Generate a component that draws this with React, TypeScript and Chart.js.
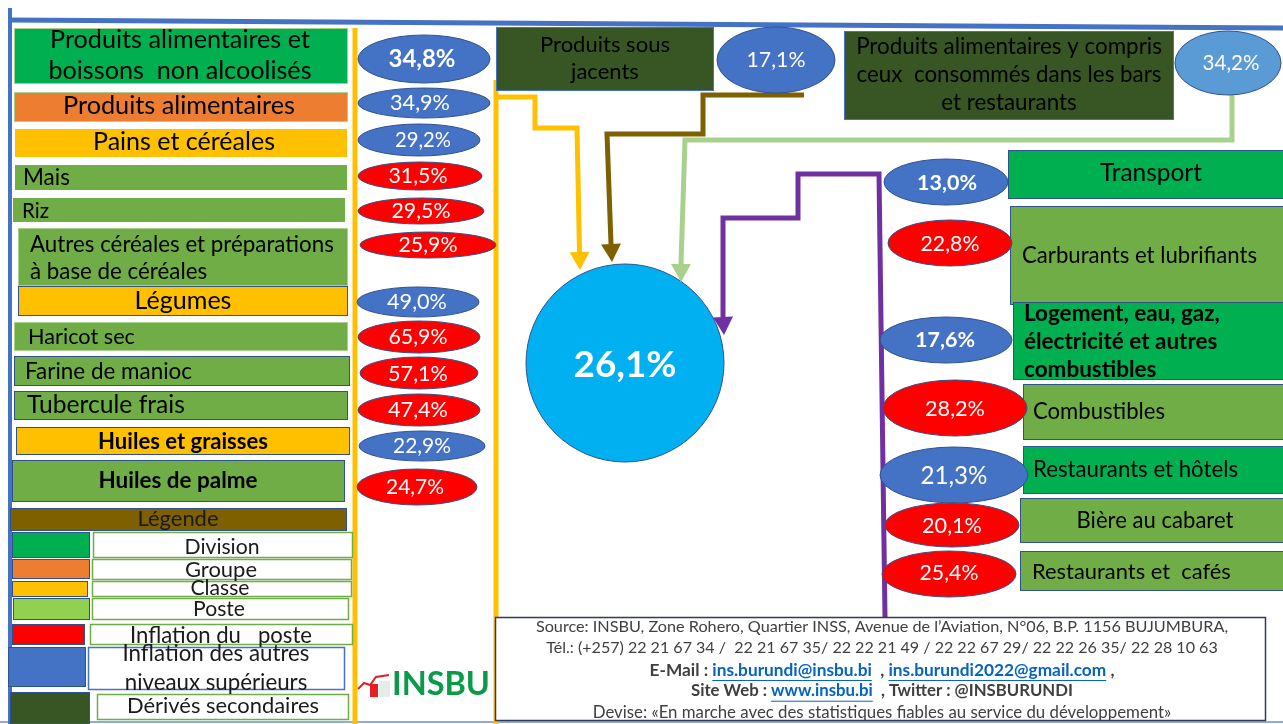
import React, { useEffect, useRef } from "react";
import { Chart, registerables } from "chart.js";

Chart.register(...registerables);

// ---------- DATA ----------
const leftLabels = [
  "Produits alimentaires et\nboissons  non alcoolisés",
  "Produits alimentaires",
  "Pains et céréales",
  "Mais",
  "Riz",
  "Autres céréales et préparations\nà base de céréales",
  "Légumes",
  "Haricot sec",
  "Farine de manioc",
  "Tubercule frais",
  "Huiles et graisses",
  "Huiles de palme",
];
const leftValues = [34.8, 34.9, 29.2, 31.5, 29.5, 25.9, 49.0, 65.9, 57.1, 47.4, 22.9, 24.7];
const leftLevels = ["Division", "Groupe", "Classe", "Poste", "Poste", "Poste", "Classe", "Poste", "Poste", "Poste", "Classe", "Poste"];

const rightLabels = [
  "Transport",
  "Carburants et lubrifiants",
  "Logement, eau, gaz,\nélectricité et autres\ncombustibles",
  "Combustibles",
  "Restaurants et hôtels",
  "Bière au cabaret",
  "Restaurants et  cafés",
];
const rightValues = [13.0, 22.8, 17.6, 28.2, 21.3, 20.1, 25.4];
const rightLevels = ["Division", "Poste", "Division", "Poste", "Division", "Poste", "Poste"];

const topLabels = ["Produits sous\njacents", "Produits alimentaires y compris\nceux  consommés dans les bars\net restaurants"];
const topValues = [17.1, 34.2];
const headlineValue = 26.1;

const legendTitle = "Légende";
const legendLabels = [
  "Division",
  "Groupe",
  "Classe",
  "Poste",
  "Inflation du   poste",
  "Inflation des autres\nniveaux supérieurs",
  "Dérivés secondaires",
];
const legendColors = ["#00B050", "#ED7D31", "#FFC000", "#92D050", "#FF0000", "#4472C4", "#375623"];

const footerLine1 = "Source: INSBU, Zone Rohero, Quartier INSS, Avenue de l’Aviation, N°06, B.P. 1156 BUJUMBURA,";
const footerLine2 = "Tél.: (+257) 22 21 67 34 /  22 21 67 35/ 22 22 21 49 / 22 22 67 29/ 22 22 26 35/ 22 28 10 63";
const footerLine5 = "Devise: «En marche avec des statistiques fiables au service du développement»";
const logoText = "INSBU";

// ---------- STYLES / LAYOUT ----------
const LEVEL_FILL: Record<string, string> = {
  Division: "#00B050",
  Groupe: "#ED7D31",
  Classe: "#FFC000",
  Poste: "#70AD47",
};
const DERIVED = "#375623";
const RED = "#FF0000";
const BLUE = "#4472C4";
const FONT = 'Lato, "Open Sans", sans-serif';

type R = [number, number, number, number];
type E = [number, number, number, number];
// w = target width (px) of the first line, used to fit the font size
type T = { x: number; y: number; size: number; w?: number; bold?: boolean; align?: CanvasTextAlign; lh?: number };

const leftBoxes: R[] = [
  [14, 28, 348, 84], [14, 92, 348, 122], [14, 128, 348, 158], [14, 164, 348, 191],
  [12, 197, 346, 223], [18, 228, 348, 286], [18, 286, 348, 316], [14, 322, 348, 351],
  [14, 356, 350, 386], [14, 391, 348, 420], [16, 427, 350, 455], [12, 460, 345, 502],
];
const leftBoxBorders = ["#A9D18E", "#A9D18E", "#FFFFFF", "#FFFFFF", "#FFFFFF", "#A9D18E", "#2F528F", "#A9D18E", "#2F528F", "#2F528F", "#2F528F", "#2F528F"];
const leftText: T[] = [
  { x: 180, y: 40, size: 22, w: 260, align: "center", lh: 31 },
  { x: 179, y: 106, size: 22, w: 232, align: "center" },
  { x: 184, y: 142, size: 22, w: 182, align: "center" },
  { x: 23, y: 178, size: 17, w: 47 },
  { x: 22, y: 211, size: 17, w: 27 },
  { x: 30, y: 245, size: 17, w: 304, lh: 27 },
  { x: 183, y: 301, size: 22, w: 97, align: "center" },
  { x: 28, y: 337, size: 17, w: 107 },
  { x: 25, y: 372, size: 17, w: 167 },
  { x: 27, y: 405, size: 20, w: 158 },
  { x: 183, y: 442, size: 17, w: 170, bold: true, align: "center" },
  { x: 178, y: 481, size: 17, w: 159, bold: true, align: "center" },
];
const leftEllipses: E[] = [
  [424, 59, 66, 24], [424, 103, 66, 15], [419, 140, 61, 16], [420, 176, 62, 14],
  [421, 211, 63, 13], [428, 245, 68, 13], [418, 302, 61, 15], [419, 337, 61, 16],
  [419, 373, 59, 16], [419, 410, 61, 16], [422, 446, 63, 15], [417, 487, 60, 18],
];
const leftEllText: T[] = [
  { x: 422, y: 59, size: 21, w: 67, bold: true, align: "center" },
  { x: 420, y: 103, size: 18, w: 60, align: "center" },
  { x: 423, y: 140, size: 18, w: 56, align: "center" },
  { x: 418, y: 176, size: 18, w: 59, align: "center" },
  { x: 421, y: 211, size: 18, w: 59, align: "center" },
  { x: 428, y: 245, size: 18, w: 59, align: "center" },
  { x: 417, y: 302, size: 18, w: 60, align: "center" },
  { x: 418, y: 337, size: 18, w: 59, align: "center" },
  { x: 418, y: 374, size: 18, w: 60, align: "center" },
  { x: 418, y: 410, size: 18, w: 60, align: "center" },
  { x: 422, y: 446, size: 18, w: 58, align: "center" },
  { x: 415, y: 487, size: 18, w: 58, align: "center" },
];

const rightBoxes: R[] = [
  [1008, 150, 1290, 199], [1010, 206, 1290, 305], [1013, 302, 1290, 380], [1023, 384, 1290, 440],
  [1023, 446, 1290, 494], [1020, 498, 1290, 543], [1020, 551, 1290, 591],
];
const rightText: T[] = [
  { x: 1151, y: 173, size: 22, w: 102, align: "center" },
  { x: 1022, y: 256, size: 18, w: 235 },
  { x: 1024, y: 314, size: 18, w: 196, bold: true, lh: 28 },
  { x: 1033, y: 412, size: 18, w: 132 },
  { x: 1033, y: 470, size: 18, w: 205 },
  { x: 1155, y: 521, size: 18, w: 157, align: "center" },
  { x: 1032, y: 572, size: 18, w: 199 },
];
const rightEllipses: E[] = [
  [946, 182, 62, 23], [950, 243, 62, 23], [946, 340, 66, 23], [955, 408, 72, 28],
  [954, 475, 74, 28], [952, 525, 67, 22], [949, 574, 67, 23],
];
const rightEllText: T[] = [
  { x: 947, y: 183, size: 18, w: 60, bold: true, align: "center" },
  { x: 950, y: 244, size: 18, w: 59, align: "center" },
  { x: 945, y: 340, size: 18, w: 60, bold: true, align: "center" },
  { x: 955, y: 409, size: 18, w: 60, align: "center" },
  { x: 954, y: 476, size: 20, w: 67, align: "center" },
  { x: 952, y: 526, size: 18, w: 60, align: "center" },
  { x: 949, y: 573, size: 18, w: 59, align: "center" },
];

const topBoxes: R[] = [[496, 27, 714, 91], [844, 31, 1174, 120]];
const topText: T[] = [
  { x: 605, y: 45, size: 17, w: 130, align: "center", lh: 27 },
  { x: 1009, y: 47, size: 17, w: 306, align: "center", lh: 28 },
];
const topEllipses: E[] = [[776, 60, 59, 33], [1228, 63, 53, 32]];
const topEllColors = [BLUE, "#5B9BD5"];
const topEllText: T[] = [
  { x: 776, y: 60, size: 17, w: 59, align: "center" },
  { x: 1231, y: 63, size: 16, w: 57, align: "center" },
];

const headline = { x: 625, y: 363, r: 99 };
const headlineText: T = { x: 625, y: 365, size: 36, w: 103, bold: true, align: "center" };

const legendTitleBox: R = [10, 508, 347, 531];
const legendTitleText: T = { x: 178, y: 519, size: 18, w: 81, align: "center" };
const legendSwatches: R[] = [
  [12, 532, 90, 558], [12, 559, 90, 579], [12, 581, 88, 597], [13, 598, 90, 620],
  [12, 624, 85, 645], [8, 647, 86, 687], [10, 692, 90, 724],
];
const legendBoxes: R[] = [
  [93, 532, 353, 558], [92, 559, 352, 580], [92, 581, 352, 597], [92, 598, 349, 620],
  [90, 624, 353, 645], [88, 647, 345, 690], [97, 694, 349, 720],
];
const legendBoxBorders = ["#70AD47", "#70AD47", "#70AD47", "#70AD47", "#70AD47", "#4472C4", "#70AD47"];
const legendText: T[] = [
  { x: 222, y: 547, size: 18, w: 75, align: "center" },
  { x: 221, y: 570, size: 18, w: 72, align: "center" },
  { x: 220, y: 588, size: 18, w: 59, align: "center" },
  { x: 219, y: 609, size: 18, w: 52, align: "center" },
  { x: 221, y: 636, size: 18, w: 182, align: "center" },
  { x: 216, y: 654, size: 18, w: 187, align: "center", lh: 29 },
  { x: 223, y: 706, size: 18, w: 192, align: "center" },
];

const connectors = [
  { color: "#FFC000", pts: [[496, 97], [535, 97], [535, 128], [577, 128], [579.5, 252]], tip: [580, 270] },
  { color: "#7F6000", pts: [[804, 95], [703, 95], [703, 134], [607, 134], [611, 244]], tip: [612, 262] },
  { color: "#A9D18E", pts: [[1232, 93], [1232, 140], [685, 140], [681, 264]], tip: [681, 282] },
  { color: "#7030A0", pts: [[885, 617], [879, 174], [798, 174], [798, 218], [723, 218], [723, 317]], tip: [724, 335] },
];
const plainLines = [
  { color: "#FFC000", width: 5, pts: [[496, 80], [496, 724]] },
  { color: "#FFC000", width: 5, pts: [[355, 28], [355, 724]] },
  { color: "#4472C4", width: 5, pts: [[8, 20], [1283, 28]] },
  { color: "#4472C4", width: 4, pts: [[10, 8], [10, 724]] },
  { color: "#8FAADC", width: 2, pts: [[0, 722], [1283, 722]] },
];
const footerBox: R = [495, 617, 1266, 721];
const footerY = [627, 648, 670, 691, 713];
const footerW = [693, 672, 465, 382, 579];

const fmt = (v: number) => v.toFixed(1).replace(".", ",") + "%";

export default function App() {
  const ref = useRef<HTMLCanvasElement | null>(null);

  useEffect(() => {
    if (!ref.current) return;

    const plugin = {
      id: "infographic",
      afterDatasetsDraw(chart: any) {
        const ctx: CanvasRenderingContext2D = chart.ctx;
        const sx = chart.scales.x;
        const sy = chart.scales.y;
        const X = (v: number) => sx.getPixelForValue(v);
        const Y = (v: number) => sy.getPixelForValue(v);

        const rect = (r: R, fill: string | null, stroke?: string, lw = 1) => {
          const x = X(r[0]), y = Y(r[1]), w = X(r[2]) - x, h = Y(r[3]) - y;
          if (fill) { ctx.fillStyle = fill; ctx.fillRect(x, y, w, h); }
          if (stroke) { ctx.strokeStyle = stroke; ctx.lineWidth = lw; ctx.strokeRect(x + 0.5, y + 0.5, w - 1, h - 1); }
        };
        const ell = (e: E, fill: string) => {
          ctx.beginPath();
          ctx.ellipse(X(e[0]), Y(e[1]), Math.abs(X(e[0] + e[2]) - X(e[0])), Math.abs(Y(e[1] + e[3]) - Y(e[1])), 0, 0, Math.PI * 2);
          ctx.fillStyle = fill;
          ctx.fill();
          ctx.strokeStyle = "#2F528F";
          ctx.lineWidth = 1;
          ctx.stroke();
        };
        const text = (s: string, t: T, color = "#000") => {
          const lines = s.split("\n");
          let size = t.size;
          const weight = t.bold ? "bold " : "";
          if (t.w) {
            ctx.font = `${weight}${size}px ${FONT}`;
            const m = ctx.measureText(lines[0]).width;
            if (m > 0) size = (size * t.w) / m;
          }
          ctx.font = `${weight}${size.toFixed(2)}px ${FONT}`;
          ctx.fillStyle = color;
          ctx.textAlign = t.align || "left";
          ctx.textBaseline = "middle";
          const lh = t.lh || t.size * 1.4;
          lines.forEach((line, i) => ctx.fillText(line, X(t.x), Y(t.y + i * lh)));
        };
        const rich = (segs: { t: string; bold?: boolean; link?: boolean }[], cx: number, cy: number, target: number) => {
          const measure = (size: number) =>
            segs.map((s) => {
              ctx.font = `${s.bold ? "bold " : ""}${size}px ${FONT}`;
              return ctx.measureText(s.t).width;
            });
          const base = 14;
          const w0 = measure(base).reduce((a, b) => a + b, 0);
          const size = (base * target) / w0;
          const widths = measure(size);
          const total = widths.reduce((a, b) => a + b, 0);
          let x = X(cx) - total / 2;
          ctx.textAlign = "left";
          ctx.textBaseline = "middle";
          segs.forEach((s, i) => {
            ctx.font = `${s.bold ? "bold " : ""}${size}px ${FONT}`;
            ctx.fillStyle = s.link ? "#0563C1" : "#404040";
            ctx.fillText(s.t, x, Y(cy));
            if (s.link) ctx.fillRect(x, Y(cy) + size * 0.58, widths[i], 1);
            x += widths[i];
          });
        };

        ctx.save();

        // arrowheads
        connectors.forEach((c) => {
          const base = c.pts[c.pts.length - 1];
          const tip = c.tip;
          const bx = X(base[0]), by = Y(base[1]), tx = X(tip[0]), ty = Y(tip[1]);
          const dx = tx - bx, dy = ty - by;
          const len = Math.hypot(dx, dy) || 1;
          const nx = -dy / len, ny = dx / len;
          const hw = 10;
          ctx.beginPath();
          ctx.moveTo(tx, ty);
          ctx.lineTo(bx + nx * hw, by + ny * hw);
          ctx.lineTo(bx - nx * hw, by - ny * hw);
          ctx.closePath();
          ctx.fillStyle = c.color;
          ctx.fill();
        });

        // left column
        leftBoxes.forEach((r, i) => rect(r, LEVEL_FILL[leftLevels[i]], leftBoxBorders[i]));
        leftLabels.forEach((s, i) => text(s, leftText[i]));
        leftEllipses.forEach((e, i) => ell(e, leftLevels[i] === "Poste" ? RED : BLUE));
        leftValues.forEach((v, i) => text(fmt(v), leftEllText[i], "#FFFFFF"));

        // right column
        rightBoxes.forEach((r, i) => rect(r, LEVEL_FILL[rightLevels[i]], "#2F528F"));
        rightLabels.forEach((s, i) => text(s, rightText[i]));
        rightEllipses.forEach((e, i) => ell(e, rightLevels[i] === "Poste" ? RED : BLUE));
        rightValues.forEach((v, i) => text(fmt(v), rightEllText[i], "#FFFFFF"));

        // top
        topBoxes.forEach((r) => rect(r, DERIVED, "#4472C4"));
        topLabels.forEach((s, i) => text(s, topText[i]));
        topEllipses.forEach((e, i) => ell(e, topEllColors[i]));
        topValues.forEach((v, i) => text(fmt(v), topEllText[i], "#FFFFFF"));

        // headline value
        text(fmt(headlineValue), headlineText, "#FFFFFF");

        // legend
        rect(legendTitleBox, "#7F6000", "#2F528F");
        text(legendTitle, legendTitleText, "#1a1a1a");
        legendSwatches.forEach((r, i) => rect(r, legendColors[i], "#2F528F"));
        legendBoxes.forEach((r, i) => rect(r, "#FFFFFF", legendBoxBorders[i], 1.5));
        legendLabels.forEach((s, i) => text(s, legendText[i], "#1a1a1a"));

        // footer
        rect(footerBox, "#FFFFFF", "#2F3B55", 1.5);
        rich([{ t: footerLine1 }], 882, footerY[0], footerW[0]);
        rich([{ t: footerLine2 }], 882, footerY[1], footerW[1]);
        rich([
          { t: "E-Mail : ", bold: true },
          { t: "ins.burundi@insbu.bi", bold: true, link: true },
          { t: "  , ", bold: true },
          { t: "ins.burundi2022@gmail.com", bold: true, link: true },
          { t: " ,", bold: true },
        ], 882, footerY[2], footerW[2]);
        rich([
          { t: "Site Web : ", bold: true },
          { t: "www.insbu.bi", bold: true, link: true },
          { t: "  , Twitter : @INSBURUNDI", bold: true },
        ], 882, footerY[3], footerW[3]);
        rich([{ t: footerLine5 }], 882, footerY[4], footerW[4]);

        // logo
        ctx.strokeStyle = "#E02020";
        ctx.lineWidth = 2;
        ctx.beginPath();
        [[358, 689], [364, 683], [370, 685], [376, 677], [389, 675]].forEach((p, i) =>
          i === 0 ? ctx.moveTo(X(p[0]), Y(p[1])) : ctx.lineTo(X(p[0]), Y(p[1]))
        );
        ctx.stroke();
        rect([370, 684, 378, 697], "#E81E25");
        rect([379, 681, 390, 697], "#E4EDE6");
        text(logoText, { x: 392, y: 685, size: 30, w: 98, bold: true }, "#0A9A48");

        ctx.restore();
      },
    };

    const datasets: any[] = [];
    plainLines.forEach((l) =>
      datasets.push({
        type: "scatter",
        data: l.pts.map(([x, y]) => ({ x, y })),
        showLine: true,
        borderColor: l.color,
        borderWidth: l.width,
        pointRadius: 0,
        tension: 0,
        fill: false,
        order: 10,
      })
    );
    connectors.forEach((c) =>
      datasets.push({
        type: "scatter",
        data: c.pts.map(([x, y]) => ({ x, y })),
        showLine: true,
        borderColor: c.color,
        borderWidth: 5,
        borderJoinStyle: "miter",
        pointRadius: 0,
        tension: 0,
        fill: false,
        order: 5,
      })
    );
    datasets.push({
      type: "bubble",
      data: [{ x: headline.x, y: headline.y, r: headline.r }],
      backgroundColor: "#00B0F0",
      borderColor: "#2F528F",
      borderWidth: 1,
      order: 1,
    });

    const chart = new Chart(ref.current, {
      type: "scatter",
      data: { datasets },
      options: {
        responsive: false,
        animation: false,
        devicePixelRatio: 1,
        events: [],
        layout: { padding: 0, autoPadding: false },
        plugins: { legend: { display: false }, tooltip: { enabled: false } },
        scales: {
          x: { type: "linear", min: 0, max: 1283, display: false },
          y: { type: "linear", min: 0, max: 724, reverse: true, display: false },
        },
      },
      plugins: [plugin],
    } as any);

    let alive = true;
    if ((document as any).fonts && (document as any).fonts.ready) {
      (document as any).fonts.ready.then(() => { if (alive) chart.draw(); });
    }

    return () => {
      alive = false;
      chart.destroy();
    };
  }, []);

  return (
    <div style={{ position: "absolute", left: 0, top: 0, width: 1283, height: 724, background: "#FFFFFF", overflow: "hidden" }}>
      <canvas ref={ref} width={1283} height={724} style={{ width: 1283, height: 724, display: "block" }} />
    </div>
  );
}
